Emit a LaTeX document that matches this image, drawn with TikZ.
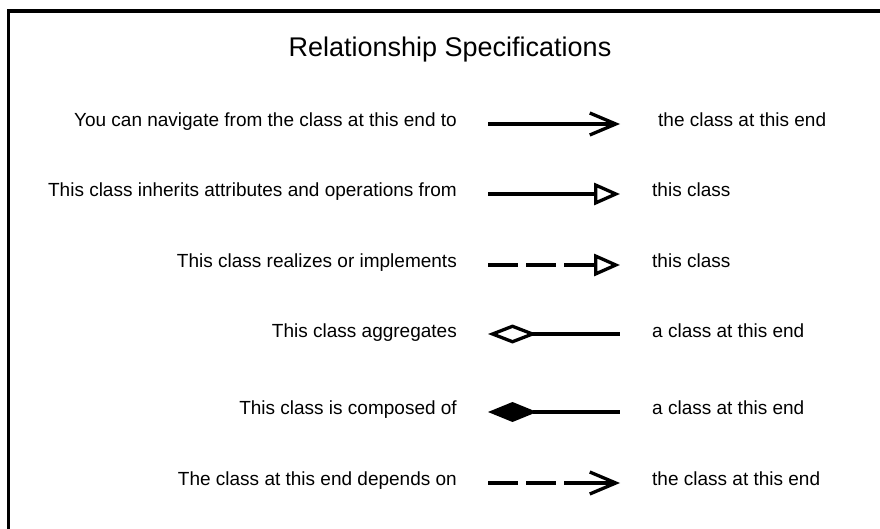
\documentclass[tikz,border=0pt]{standalone}
\usepackage{fontspec}
\setmainfont{Liberation Sans}
\usetikzlibrary{arrows.meta}

\begin{document}
\begin{tikzpicture}[x=1pt,y=-1pt,
  spec/.style={inner sep=0pt,anchor=base east,font=\fontsize{19}{23}\selectfont},
  target/.style={inner sep=0pt,anchor=base west,font=\fontsize{19}{23}\selectfont},
  rel/.style={line width=3.3pt},
  dashrel/.style={rel,dash pattern=on 30pt off 8pt on 30pt off 8pt on 80pt off 1pt}]
\clip (0,0) rectangle (880,529);
\draw[line width=3.3pt] (8.5,560) -- (8.5,11) -- (900,11);

\node[inner sep=0pt,anchor=base,font=\fontsize{27}{32}\selectfont] (title) at (450,57) {Relationship Specifications};

\node[spec] (nav) at (457,127) {You can navigate from the class at this end to};
\node[spec] (inh) at (457,197) {This class inherits attributes and operations from};
\node[spec] (real) at (457,267) {This class realizes or implements};
\node[spec] (aggr) at (457,337) {This class aggregates};
\node[spec] (comp) at (457,414) {This class is composed of};
\node[spec] (dep) at (457,485) {The class at this end depends on};

\node[target] (navto) at (658,127) {the class at this end};
\node[target] (inhto) at (652,197) {this class};
\node[target] (realto) at (652,267) {this class};
\node[target] (aggrto) at (652,337) {a class at this end};
\node[target] (compto) at (652,414) {a class at this end};
\node[target] (depto) at (652,485) {the class at this end};

\coordinate (nav-a) at (488,124);  \coordinate (nav-b) at (620,124);
\coordinate (inh-a) at (488,194);  \coordinate (inh-b) at (620,194);
\coordinate (real-a) at (488,265); \coordinate (real-b) at (620,265);
\coordinate (aggr-a) at (488,334); \coordinate (aggr-b) at (620,334);
\coordinate (comp-a) at (488,412); \coordinate (comp-b) at (620,412);
\coordinate (dep-a) at (488,483);  \coordinate (dep-b) at (620,483);

\draw[rel,-{Straight Barb[length=26pt,width=22pt]}] (nav-a) -- (nav-b);
\draw[rel,-{Triangle[open,length=26pt,width=22pt]}] (inh-a) -- (inh-b);
\draw[dashrel,-{Triangle[open,length=26pt,width=22pt]}] (real-a) -- (real-b);
\draw[rel,{Diamond[open,length=49pt,width=19pt]}-] (aggr-a) -- (aggr-b);
\draw[rel,{Diamond[length=49pt,width=20pt]}-] (comp-a) -- (comp-b);
\draw[dashrel,-{Straight Barb[length=26pt,width=22pt]}] (dep-a) -- (dep-b);
\end{tikzpicture}
\end{document}
